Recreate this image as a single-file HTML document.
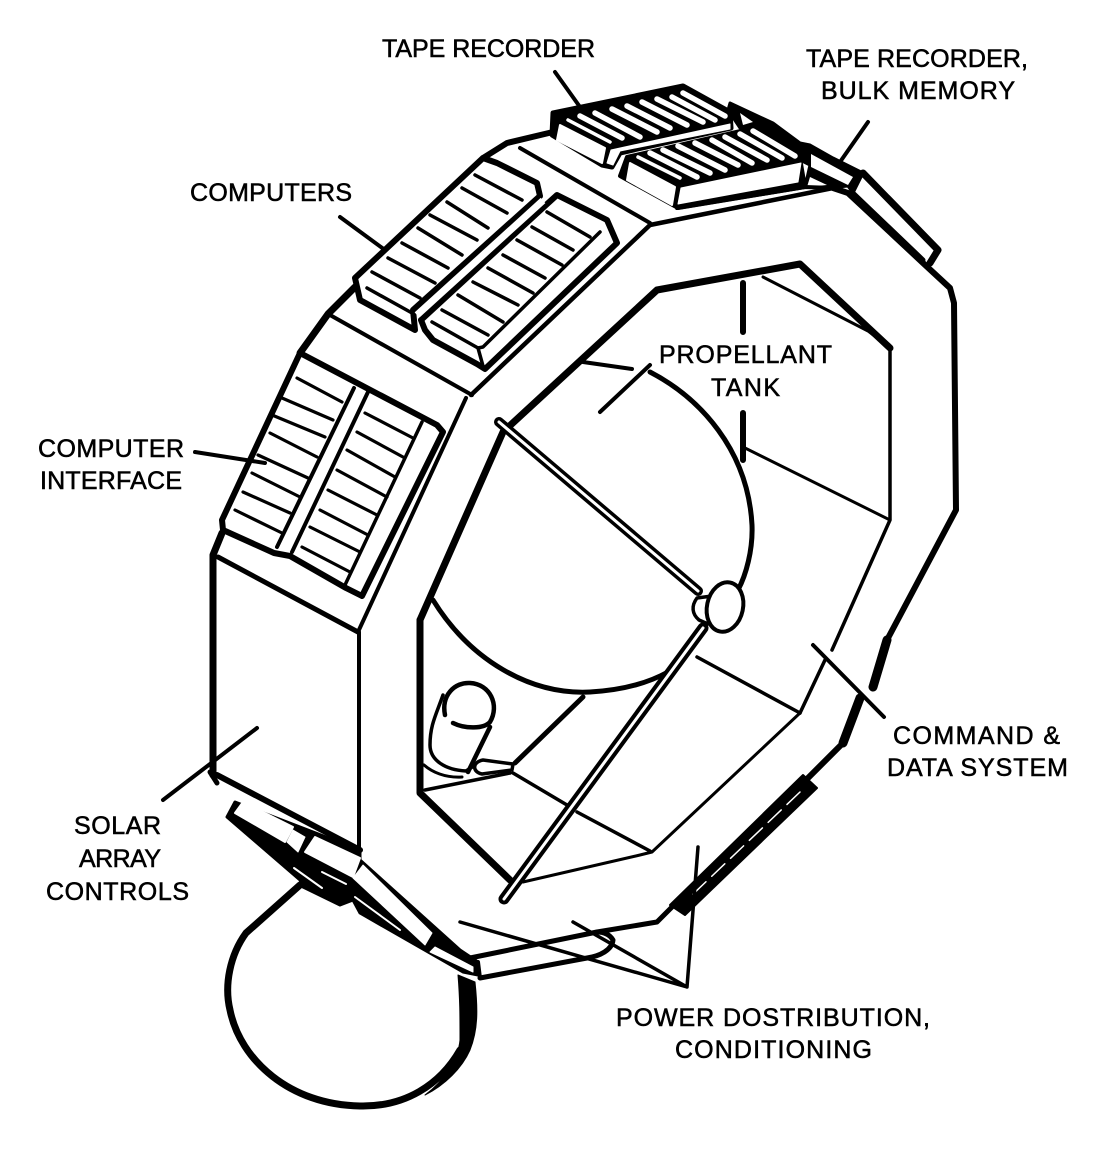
<!DOCTYPE html>
<html><head><meta charset="utf-8"><style>
html,body{margin:0;padding:0;background:#fff}
svg{display:block}
text{font-family:"Liberation Sans",sans-serif;font-size:25px;fill:#000;stroke:#000;stroke-width:.55}
</style></head><body>
<svg width="1105" height="1150" viewBox="0 0 1105 1150" xmlns="http://www.w3.org/2000/svg" fill="none" stroke="#000" stroke-linejoin="round" stroke-linecap="round">
<!-- outer body -->
<g stroke-width="6">
<path d="M213 640V775M213 640V555L222 533" stroke-width="7"/>
<path d="M218 557L358 632" stroke-width="5"/>
<path d="M217 775L360 850" stroke-width="6"/>
<path d="M359 632V855" stroke-width="4"/>
<path d="M358 632L466 398" stroke-width="4"/>
<path d="M330 315L472 395" stroke-width="4"/>
<path d="M300 353L328 314L355 287" stroke-width="7"/>
<path d="M471 395L650 225L833 188" stroke-width="4.5"/>
<path d="M483 158L507 143L553 132" stroke-width="6"/>
<path d="M520 148L650 223" stroke-width="4"/>
<!-- right -->
<path d="M833 188L848 193L923 263L950 288L954 303L956 510L887 640" stroke-width="6"/>
<path d="M887 640L873 687" stroke-width="9"/>
<path d="M863 173L938 250L930 263" stroke-width="7"/>
<path d="M853 193L923 260" stroke-width="5"/>
<path d="M860 698L843 743" stroke-width="9"/>
<path d="M843 743L808 778" stroke-width="6"/>
<path d="M672 907L657 922L597 932L470 958" stroke-width="5"/>
<path d="M480 978L587 958C600 956 612 950 613 940C610 935 605 932 597 932" stroke-width="5"/>
<path d="M478 962L480 978" stroke-width="4"/>
</g>
<path d="M803 775L817 788L685 915L670 905Z" fill="#000" stroke-width="2"/>
<path d="M800 792L690 897" stroke="#fff" stroke-width="1.5" stroke-dasharray="18 8"/>
<!-- top band -->
<path d="M730 103L773 123L800 143L810 145L833 158L863 173L853 193L848 186L827 188L805 187L810 165L800 160L757 132L740 128L728 110Z" fill="#000" stroke-width="3"/>
<path d="M811 154L853 177L848 185L811 167Z" fill="#fff" stroke="none"/>
<path d="M810 177L827 185L807 187Z" fill="#fff" stroke="none"/>
<path d="M740 113L753 122L743 125Z" fill="#fff" stroke="none"/>
<!-- tape recorder 1 -->
<path d="M553 113L683 86L730 112L731 128L620 153L612 167L602 165L552 135Z" fill="#000" stroke-width="5"/>
<path d="M560 125L605 148L602 163L557 140Z" fill="#fff" stroke="#fff" stroke-width="2"/>
<path d="M611 150L730 124L730 129L620 151L613 165L607 163Z" fill="#fff" stroke="#fff" stroke-width="1"/>
<g stroke="#fff">
<path d="M568 120L610 142" stroke-width="3.5"/>
<path d="M580 116L622 138M595 113L640 137M612 109L657 132M627 106L670 128M642 102L687 125M657 99L703 122M672 97L715 120M683 93L725 116" stroke-width="5.5"/>
</g>
<!-- tape recorder 2 -->
<path d="M620 176L627 157L745 130L800 158L805 187L678 208Z" fill="#000" stroke-width="4"/>
<path d="M630 163L675 187L672 205L627 180Z" fill="#fff" stroke="#fff" stroke-width="2"/>
<path d="M681 188L801 163L798 182L678 204Z" fill="#fff" stroke="#fff" stroke-width="1"/>
<g stroke="#fff">
<path d="M638 157L680 178" stroke-width="3.5"/>
<path d="M650 153L697 177M663 150L710 173M678 146L725 170M695 143L738 165M712 140L752 163M725 137L767 160M740 134L782 158M753 131L795 156" stroke-width="5.5"/>
</g>
<path d="M677 208L805 187L833 188" stroke-width="4"/>
<!-- computers panels -->
<g stroke-width="6">
<path d="M483 158L497 163L537 183L540 196L413 310L415 330L360 300L355 278Z" fill="#fff"/>
<path d="M557 195L607 220L617 243L485 369L477 364L433 340L425 330L421 320L546 205Z" fill="#fff"/>
</g>
<path d="M543 200.5L417 315" stroke="#fff" stroke-width="7" stroke-linecap="butt"/>
<path d="M600 232L483 347L478 348L432 322" stroke-width="3.5"/>
<path d="M478 348L483 366" stroke-width="3.5"/>
<g stroke-width="3.5">
<path d="M475 175L522 200M462 188L507 213M447 202L488 228M430 215L477 240M418 228L462 255M402 243L448 268M388 258L435 283M372 272L420 298M367 288L412 313"/>
<path d="M547 212L590 237M532 227L573 250M517 240L562 265M503 255L545 278M488 268L533 293M473 282L518 305M458 295L503 322M442 310L488 335"/>
</g>
<!-- computer interface panel -->
<path d="M300 353L437 425L443 432L362 596L346 588L290 556L274 553L223 530L222 520Z" fill="#fff" stroke-width="6"/>
<path d="M354 388L277 547M368 392L292 552" stroke-width="4"/>
<path d="M422 422L345 585" stroke-width="3.5"/>
<g stroke-width="3.2">
<path d="M297 378L342 402M282 398L333 420M272 415L325 437M270 433L317 457M258 455L308 478M252 473L300 497M243 492L290 513M235 510L282 533"/>
<path d="M365 413L413 438M357 432L403 457M347 450L395 477M337 470L387 497M328 490L377 515M320 510L368 535M310 527L360 552M302 547L350 572"/>
</g>
<!-- inner opening -->
<path d="M420 620L503 432L657 290L800 264L890 348" stroke-width="7"/>
<path d="M890 348V520L832 650" stroke-width="3.5"/>
<path d="M825 660L800 713" stroke-width="3.5"/>
<path d="M420 620V793L510 880" stroke-width="7"/>
<path d="M523 882L640 855L652 852L800 713" stroke-width="3"/>
<path d="M763 277L868 331L890 348" stroke-width="3"/>
<path d="M743 447L890 520" stroke-width="3"/>
<path d="M743 283V332M743 413V460" stroke-width="6"/>
<!-- tank -->
<path d="M583 362L632 369" stroke-width="4"/>
<path d="M650 372C700 398 748 450 752 525C753 550 746 575 738 590" stroke-width="5"/>
<path d="M433 600C470 660 530 695 590 692C625 690 650 682 668 672" stroke-width="5"/>
<path d="M697 657L800 713" stroke-width="3.5"/>
<path d="M513 773L567 805M577 812L650 851" stroke-width="3.5"/>
<path d="M583 697L515 763" stroke-width="5"/>
<path d="M425 790L510 773" stroke-width="3.5"/>
<!-- cylinder -->
<path d="M445 715C441 695 455 682 470 683C490 684 500 705 490 722C484 729 465 729 453 723" stroke-width="4.5"/>
<path d="M443 695C436 715 430 725 430 745C430 760 445 770 466 771L480 762" stroke-width="3.5"/>
<path d="M490 727L468 772" stroke-width="4.5"/>
<path d="M483 760L513 764L512 770L482 774C472 772 472 762 483 760Z" fill="#fff" stroke-width="3.5"/>
<path d="M424 765C432 772 445 778 462 777" stroke-width="3"/>
<!-- struts -->
<path d="M499 422L698 591" stroke-width="10"/>
<path d="M499 422L698 591" stroke="#fff" stroke-width="3"/>
<path d="M703 628L504 899" stroke-width="11"/>
<path d="M703 628L504 899" stroke="#fff" stroke-width="3"/>
<!-- hub -->
<path d="M697 598L712 596L708 624L699 620C692 614 691 606 697 598Z" fill="#fff" stroke-width="3.5"/>
<ellipse cx="725" cy="607" rx="18" ry="25" transform="rotate(12 725 607)" fill="#fff" stroke-width="4"/>
<!-- bottom left assembly -->
<path d="M227 817L235 802L360 850L360 860L460 950L478 962L478 975L463 972L360 913L353 900L340 905L303 887L300 880Z" fill="#000" stroke-width="3"/>
<path d="M243 802L293 827L285 842L235 813Z" fill="#fff" stroke="#fff" stroke-width="2"/>
<path d="M293 830L305 837L298 852L287 842Z" fill="#fff" stroke="#fff" stroke-width="1"/>
<path d="M315 837L360 858L353 877L305 852Z" fill="#fff" stroke="#fff" stroke-width="2"/>
<path d="M363 865L432 933L425 945L353 878Z" fill="#fff" stroke="#fff" stroke-width="1"/>
<path d="M435 947L473 967L473 972L430 952Z" fill="#fff" stroke="#fff" stroke-width="1"/>
<path d="M294 868L322 888" stroke="#fff" stroke-width="2"/>
<path d="M322 872L346 884" stroke="#fff" stroke-width="2"/>
<path d="M355 897L400 930" stroke="#fff" stroke-width="2"/>
<path d="M210 772L217 783" stroke-width="5"/>
<!-- loop -->
<path d="M300 885L246 933C230 955 224 985 230 1010C240 1060 290 1105 360 1106C405 1107 440 1085 460 1050" stroke-width="7"/>
<path d="M458 975L475 982C478 1010 478 1030 470 1050C462 1068 445 1085 425 1095C445 1080 458 1060 460 1040C460 1015 460 1000 458 975Z" fill="#000" stroke-width="1"/>
<!-- leaders -->
<g stroke-width="4">
<path d="M555 72L580 107"/>
<path d="M868 122L840 162"/>
<path d="M340 217L385 250"/>
<path d="M195 452L265 463"/>
<path d="M650 365L600 412"/>
<path d="M257 728L163 800"/>
<path d="M813 645L884 717"/>
</g>
<path d="M460 922L687 987L573 922M687 987L698 847" stroke-width="3.5"/>
<!-- labels -->
<g stroke-linejoin="miter">
<text x="382" y="57" textLength="213">TAPE RECORDER</text>
<text x="806" y="67" textLength="222">TAPE RECORDER,</text>
<text x="821" y="99" textLength="194">BULK MEMORY</text>
<text x="190" y="201" textLength="162">COMPUTERS</text>
<text x="38" y="457" textLength="146">COMPUTER</text>
<text x="40" y="489" textLength="142">INTERFACE</text>
<text x="659" y="363" textLength="173">PROPELLANT</text>
<text x="711" y="396" textLength="69">TANK</text>
<text x="893" y="744" textLength="167">COMMAND &amp;</text>
<text x="887" y="776" textLength="181">DATA SYSTEM</text>
<text x="74" y="834" textLength="87">SOLAR</text>
<text x="79" y="867" textLength="82">ARRAY</text>
<text x="46" y="900" textLength="143">CONTROLS</text>
<text x="616" y="1026" textLength="314">POWER DOSTRIBUTION,</text>
<text x="675" y="1058" textLength="197">CONDITIONING</text>
</g>
</svg>
</body></html>
